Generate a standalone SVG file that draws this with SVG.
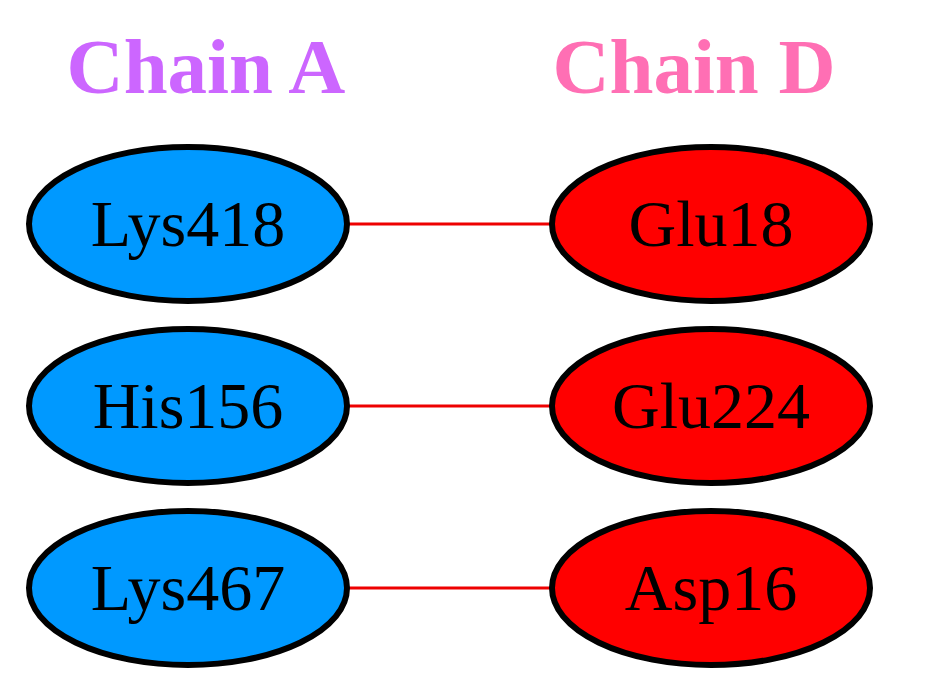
<svg xmlns="http://www.w3.org/2000/svg" width="926" height="681" viewBox="0 0 926 681">
<style>
.title{font-family:"Liberation Serif","Times New Roman",serif;font-weight:bold;font-size:79px;text-anchor:middle}
.lbl{font-family:"Liberation Serif","Times New Roman",serif;font-size:66px;text-anchor:middle;fill:#000}
.a{fill:#0099FF;stroke:#000;stroke-width:6}
.d{fill:#FF0000;stroke:#000;stroke-width:6}
.e{stroke:#EE0000;stroke-width:3;fill:none}
</style>
<rect width="926" height="681" fill="#fff"/>
<text class="title" x="206" y="93" fill="#CC66FF">Chain A</text>
<text class="title" x="694" y="93" fill="#FF6FB4">Chain D</text>
<g id="edges">
<line class="e" x1="348" y1="224" x2="551" y2="224"/>
<line class="e" x1="348" y1="406" x2="551" y2="406"/>
<line class="e" x1="348" y1="588" x2="551" y2="588"/>
</g>
<g id="Lys418"><ellipse class="a" cx="188" cy="224" rx="159" ry="77"/><text class="lbl" x="188" y="246">Lys418</text></g>
<g id="His156"><ellipse class="a" cx="188" cy="406" rx="159" ry="77"/><text class="lbl" x="188" y="428">His156</text></g>
<g id="Lys467"><ellipse class="a" cx="188" cy="588" rx="159" ry="77"/><text class="lbl" x="188" y="610">Lys467</text></g>
<g id="Glu18"><ellipse class="d" cx="711" cy="224" rx="159" ry="77"/><text class="lbl" x="711" y="246">Glu18</text></g>
<g id="Glu224"><ellipse class="d" cx="711" cy="406" rx="159" ry="77"/><text class="lbl" x="711" y="428">Glu224</text></g>
<g id="Asp16"><ellipse class="d" cx="711" cy="588" rx="159" ry="77"/><text class="lbl" x="711" y="610">Asp16</text></g>
</svg>
